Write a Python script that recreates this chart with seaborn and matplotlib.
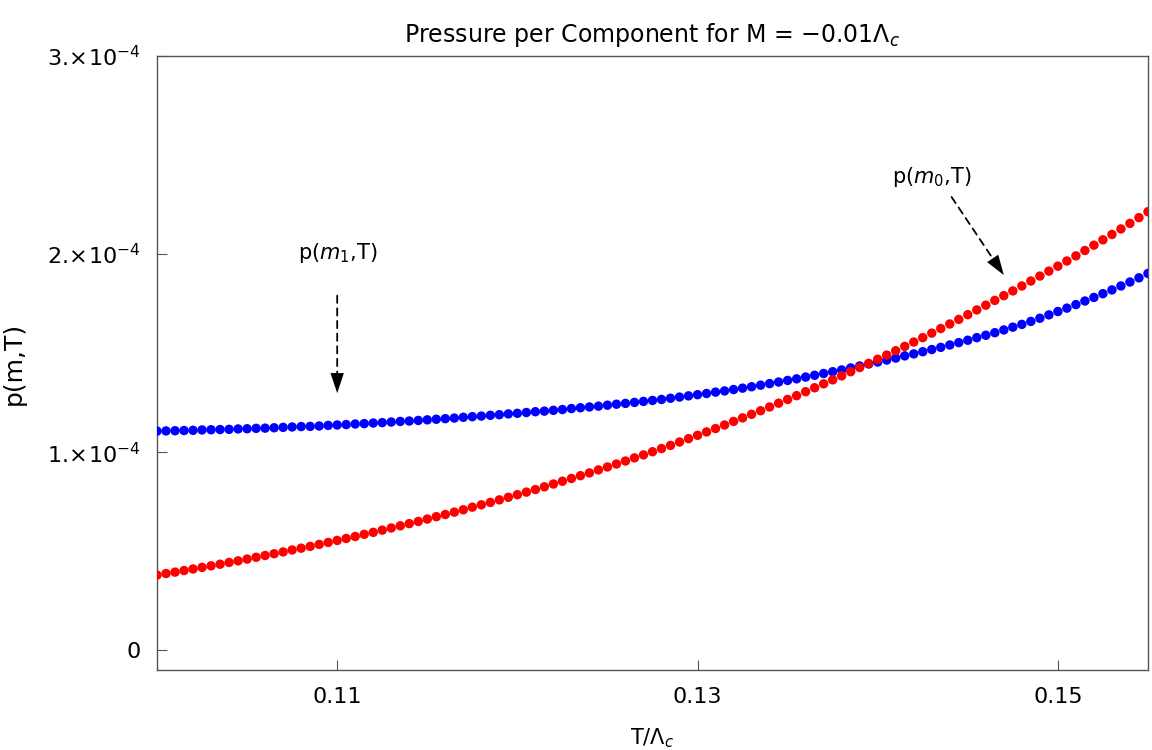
import numpy as np
import pandas as pd
import matplotlib
matplotlib.use("Agg")
import matplotlib.pyplot as plt
import seaborn as sns

# temperature grid T/Lambda_c (step 0.0005)
T = np.round(np.arange(0.1, 0.15501, 0.0005), 4)

# p(m1,T) in units of 1e-4 (blue)
p_m1 = [
    1.106, 1.107, 1.108, 1.109, 1.110, 1.112, 1.113, 1.114, 1.115, 1.117, 1.118,
    1.120, 1.121, 1.123, 1.125, 1.127, 1.129, 1.130, 1.132, 1.135, 1.137,
    1.139, 1.142, 1.144, 1.147, 1.149, 1.152, 1.155, 1.157, 1.160, 1.163,
    1.166, 1.169, 1.172, 1.176, 1.179, 1.182, 1.186, 1.189, 1.193, 1.196,
    1.200, 1.204, 1.207, 1.211, 1.215, 1.220, 1.224, 1.228, 1.232, 1.237,
    1.242, 1.246, 1.251, 1.256, 1.261, 1.266, 1.272, 1.278, 1.284, 1.290,
    1.296, 1.303, 1.309, 1.316, 1.323, 1.330, 1.338, 1.346, 1.354, 1.362,
    1.370, 1.379, 1.388, 1.397, 1.406, 1.415, 1.425, 1.435, 1.445, 1.455,
    1.465, 1.475, 1.486, 1.496, 1.507, 1.518, 1.529, 1.541, 1.553, 1.565,
    1.578, 1.590, 1.603, 1.617, 1.631, 1.645, 1.660, 1.676, 1.693, 1.710,
    1.727, 1.745, 1.763, 1.781, 1.800, 1.819, 1.839, 1.859, 1.880, 1.902,
]

# p(m0,T) in units of 1e-4 (red)
p_m0 = [
    0.379, 0.387, 0.394, 0.402, 0.410, 0.418, 0.426, 0.434, 0.443, 0.451, 0.460,
    0.469, 0.478, 0.487, 0.496, 0.506, 0.515, 0.524, 0.534, 0.544, 0.554,
    0.564, 0.574, 0.585, 0.595, 0.606, 0.617, 0.628, 0.639, 0.650, 0.662,
    0.674, 0.685, 0.697, 0.709, 0.722, 0.734, 0.746, 0.759, 0.772, 0.785,
    0.798, 0.811, 0.825, 0.839, 0.853, 0.867, 0.881, 0.895, 0.910, 0.925,
    0.940, 0.955, 0.971, 0.986, 1.002, 1.018, 1.034, 1.051, 1.068, 1.085,
    1.102, 1.119, 1.137, 1.155, 1.173, 1.191, 1.209, 1.228, 1.247, 1.266,
    1.285, 1.305, 1.325, 1.345, 1.365, 1.385, 1.406, 1.427, 1.448, 1.469,
    1.490, 1.512, 1.534, 1.556, 1.578, 1.601, 1.624, 1.647, 1.670, 1.694,
    1.718, 1.742, 1.766, 1.790, 1.814, 1.839, 1.864, 1.889, 1.914, 1.939,
    1.965, 1.991, 2.018, 2.045, 2.072, 2.099, 2.127, 2.155, 2.184, 2.214,
]

x_ticks = [0.11, 0.13, 0.15]
x_ticklabels = ["0.11", "0.13", "0.15"]
y_ticks = [0, 1e-4, 2e-4, 3e-4]
y_ticklabels = ["0",
                r"1.$\!\times\!$10$^{-4}$",
                r"2.$\!\times\!$10$^{-4}$",
                r"3.$\!\times\!$10$^{-4}$"]

df = pd.DataFrame({
    "T": np.concatenate([T, T]),
    "p": np.concatenate([np.array(p_m1), np.array(p_m0)]) * 1e-4,
    "comp": ["m1"] * len(T) + ["m0"] * len(T),
})

sns.set_theme(style="white")
plt.rcParams["font.family"] = ["DejaVu Sans"]
plt.rcParams["mathtext.fontset"] = "custom"
plt.rcParams["mathtext.rm"] = "DejaVu Sans"
plt.rcParams["mathtext.it"] = "DejaVu Sans:italic"
plt.rcParams["text.color"] = "black"
plt.rcParams["axes.labelcolor"] = "black"
plt.rcParams["xtick.color"] = "black"
plt.rcParams["ytick.color"] = "black"

fig = plt.figure(figsize=(11.52, 7.5), dpi=100)
ax = fig.add_axes([0.1363, 0.1067, 0.8602, 0.8186])

sns.scatterplot(data=df, x="T", y="p", hue="comp",
                palette={"m1": "#0000FF", "m0": "#FF0000"},
                s=46, linewidth=0, legend=False, ax=ax, zorder=3)

ax.set_xlim(0.1, 0.155)
ax.set_ylim(-0.1e-4, 3e-4)
ax.set_xticks(x_ticks)
ax.set_xticklabels(x_ticklabels)
ax.set_yticks(y_ticks)
ax.set_yticklabels(y_ticklabels)
ax.tick_params(axis="both", direction="in", length=7, width=0.8,
               labelsize=16, pad=12,
               top=False, right=False, bottom=True, left=True)
ax.tick_params(axis="both", color="#555555")
for sp in ax.spines.values():
    sp.set_color("#555555")
    sp.set_linewidth(1.0)

ax.set_xlabel(r"T/$\Lambda_c$", fontsize=15, labelpad=14)
ax.set_ylabel("p(m,T)", fontsize=18)
ax.yaxis.set_label_coords(-0.132, 0.5)
ax.set_title(r"Pressure per Component for M = $-$0.01$\Lambda_c$",
             fontsize=17, pad=10)


def dashed_arrow(start, tip, frac=0.2):
    # dashed shaft plus a solid filled head
    ax.annotate("", xy=tip, xytext=start,
                arrowprops=dict(arrowstyle="-", color="black", lw=1.3,
                                linestyle=(0, (4, 3)), shrinkA=0, shrinkB=14))
    mid = (tip[0] - frac * (tip[0] - start[0]),
           tip[1] - frac * (tip[1] - start[1]))
    ax.annotate("", xy=tip, xytext=mid,
                arrowprops=dict(arrowstyle="-|>,head_length=0.9,head_width=0.3",
                                color="black", lw=0.01, mutation_scale=16,
                                shrinkA=0, shrinkB=0))


ax.text(0.11, 2.005e-4, r"p($m_1$,T)", ha="center", va="center", fontsize=15)
dashed_arrow((0.11, 1.79e-4), (0.11, 1.298e-4))
ax.text(0.143, 2.39e-4, r"p($m_0$,T)", ha="center", va="center", fontsize=15)
dashed_arrow((0.1441, 2.288e-4), (0.1470, 1.894e-4))

fig.savefig("out.png", dpi=100)
